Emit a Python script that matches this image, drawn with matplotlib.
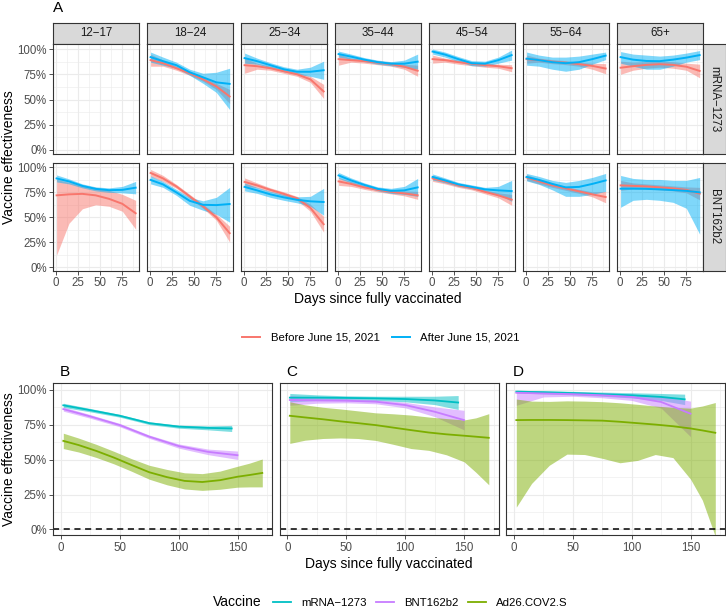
import matplotlib.pyplot as plt
from matplotlib.lines import Line2D

plt.rcParams['font.family'] = ['Liberation Sans', 'DejaVu Sans']

W, H = 726, 608

# ---- panel A data: smoothed VE by age group, (estimate, lower, upper)
age_groups = ['12−17', '18−24', '25−34', '35−44', '45−54', '55−64', '65+']
vaccines_a = ['mRNA−1273', 'BNT162b2']
periods = ['Before June 15, 2021', 'After June 15, 2021']
days_a = [1, 15, 30, 45, 60, 75, 90]

mrna_before = {
    '18−24': ([0.89, 0.86, 0.81, 0.76, 0.70, 0.63, 0.53], [0.83, 0.83, 0.79, 0.74, 0.68, 0.60, 0.46], [0.95, 0.89, 0.83, 0.78, 0.72, 0.66, 0.60]),
    '25−34': ([0.84, 0.83, 0.81, 0.78, 0.75, 0.70, 0.58], [0.76, 0.80, 0.79, 0.76, 0.73, 0.67, 0.51], [0.91, 0.86, 0.83, 0.80, 0.77, 0.73, 0.65]),
    '35−44': ([0.90, 0.89, 0.88, 0.865, 0.85, 0.825, 0.785], [0.84, 0.87, 0.86, 0.845, 0.83, 0.80, 0.73], [0.95, 0.91, 0.90, 0.885, 0.87, 0.85, 0.84]),
    '45−54': ([0.90, 0.89, 0.87, 0.855, 0.84, 0.83, 0.81], [0.86, 0.87, 0.85, 0.835, 0.82, 0.81, 0.775], [0.94, 0.91, 0.89, 0.875, 0.86, 0.85, 0.845]),
    '55−64': ([0.90, 0.89, 0.875, 0.865, 0.85, 0.833, 0.807], [0.86, 0.87, 0.855, 0.845, 0.83, 0.80, 0.755], [0.94, 0.91, 0.895, 0.885, 0.87, 0.86, 0.855]),
    '65+': ([0.815, 0.83, 0.843, 0.85, 0.843, 0.825, 0.783], [0.75, 0.79, 0.81, 0.82, 0.81, 0.79, 0.715], [0.88, 0.87, 0.875, 0.88, 0.875, 0.86, 0.85]),
}
mrna_after = {
    '18−24': ([0.92, 0.88, 0.84, 0.77, 0.72, 0.67, 0.655], [0.87, 0.84, 0.81, 0.74, 0.66, 0.57, 0.40], [0.97, 0.92, 0.87, 0.80, 0.76, 0.77, 0.81]),
    '25−34': ([0.91, 0.88, 0.84, 0.80, 0.775, 0.775, 0.79], [0.86, 0.85, 0.815, 0.775, 0.75, 0.73, 0.70], [0.96, 0.91, 0.865, 0.825, 0.80, 0.82, 0.88]),
    '35−44': ([0.95, 0.925, 0.895, 0.87, 0.855, 0.855, 0.875], [0.92, 0.90, 0.875, 0.85, 0.835, 0.82, 0.80], [0.98, 0.95, 0.915, 0.89, 0.875, 0.89, 0.95]),
    '45−54': ([0.975, 0.945, 0.90, 0.86, 0.855, 0.89, 0.94], [0.95, 0.92, 0.875, 0.835, 0.83, 0.86, 0.89], [1.0, 0.97, 0.925, 0.885, 0.88, 0.92, 0.99]),
    '55−64': ([0.905, 0.89, 0.87, 0.86, 0.87, 0.90, 0.935], [0.84, 0.83, 0.80, 0.78, 0.80, 0.85, 0.895], [0.97, 0.94, 0.92, 0.92, 0.93, 0.95, 0.97]),
    '65+': ([0.92, 0.895, 0.882, 0.88, 0.895, 0.915, 0.94], [0.86, 0.83, 0.80, 0.80, 0.83, 0.87, 0.895], [0.975, 0.95, 0.94, 0.93, 0.94, 0.96, 0.985]),
}
bnt_before = {
    '12−17': ([0.72, 0.73, 0.735, 0.72, 0.685, 0.635, 0.54], [0.12, 0.44, 0.585, 0.625, 0.61, 0.56, 0.38], [0.88, 0.85, 0.82, 0.80, 0.77, 0.73, 0.67]),
    '18−24': ([0.945, 0.89, 0.81, 0.71, 0.61, 0.50, 0.34], [0.91, 0.86, 0.79, 0.69, 0.59, 0.47, 0.25], [0.98, 0.92, 0.83, 0.73, 0.63, 0.53, 0.41]),
    '25−34': ([0.855, 0.82, 0.775, 0.735, 0.69, 0.595, 0.43], [0.815, 0.795, 0.755, 0.715, 0.67, 0.56, 0.35], [0.895, 0.845, 0.795, 0.755, 0.71, 0.63, 0.51]),
    '35−44': ([0.86, 0.835, 0.80, 0.775, 0.755, 0.74, 0.72], [0.82, 0.81, 0.78, 0.755, 0.735, 0.715, 0.68], [0.90, 0.86, 0.82, 0.795, 0.775, 0.765, 0.76]),
    '45−54': ([0.89, 0.86, 0.82, 0.795, 0.755, 0.72, 0.677], [0.86, 0.835, 0.80, 0.775, 0.735, 0.695, 0.62], [0.92, 0.885, 0.84, 0.815, 0.775, 0.745, 0.73]),
    '55−64': ([0.90, 0.86, 0.82, 0.79, 0.76, 0.73, 0.703], [0.87, 0.835, 0.80, 0.77, 0.74, 0.705, 0.645], [0.93, 0.885, 0.84, 0.81, 0.78, 0.755, 0.76]),
    '65+': ([0.82, 0.815, 0.81, 0.80, 0.79, 0.775, 0.737], [0.77, 0.785, 0.785, 0.775, 0.765, 0.745, 0.675], [0.87, 0.845, 0.835, 0.825, 0.815, 0.805, 0.80]),
}
bnt_after = {
    '12−17': ([0.89, 0.86, 0.815, 0.785, 0.772, 0.775, 0.797], [0.855, 0.835, 0.795, 0.765, 0.75, 0.745, 0.735], [0.925, 0.885, 0.835, 0.805, 0.795, 0.81, 0.86]),
    '18−24': ([0.875, 0.83, 0.75, 0.665, 0.625, 0.622, 0.633], [0.835, 0.80, 0.72, 0.62, 0.57, 0.53, 0.45], [0.915, 0.86, 0.78, 0.70, 0.665, 0.70, 0.80]),
    '25−34': ([0.805, 0.77, 0.73, 0.70, 0.675, 0.66, 0.653], [0.765, 0.74, 0.70, 0.67, 0.645, 0.61, 0.52], [0.845, 0.80, 0.76, 0.73, 0.705, 0.71, 0.79]),
    '35−44': ([0.92, 0.87, 0.825, 0.785, 0.765, 0.77, 0.80], [0.89, 0.845, 0.805, 0.765, 0.74, 0.73, 0.71], [0.95, 0.895, 0.845, 0.805, 0.79, 0.81, 0.89]),
    '45−54': ([0.905, 0.87, 0.83, 0.805, 0.78, 0.77, 0.763], [0.875, 0.845, 0.81, 0.785, 0.76, 0.73, 0.66], [0.935, 0.895, 0.85, 0.825, 0.80, 0.81, 0.87]),
    '55−64': ([0.905, 0.875, 0.835, 0.80, 0.805, 0.835, 0.87], [0.865, 0.83, 0.775, 0.71, 0.71, 0.73, 0.76], [0.94, 0.91, 0.87, 0.85, 0.87, 0.90, 0.94]),
    '65+': ([0.787, 0.787, 0.785, 0.78, 0.773, 0.765, 0.75], [0.60, 0.67, 0.68, 0.67, 0.65, 0.59, 0.33], [0.92, 0.89, 0.88, 0.88, 0.87, 0.87, 0.90]),
}

# ---- panels B-D data: smoothed VE by vaccine, (estimate, lower, upper)
vaccines_bd = ['mRNA−1273', 'BNT162b2', 'Ad26.COV2.S']
days_mrna = [2, 25, 50, 75, 100, 125, 145]
days_bnt = [2, 25, 50, 75, 100, 125, 150]
days_ad26 = [2, 15, 30, 45, 60, 75, 90, 105, 120, 135, 150, 160, 171]

mrna_bd = {
    'B': ([0.89, 0.855, 0.815, 0.762, 0.737, 0.728, 0.724], [0.875, 0.843, 0.805, 0.752, 0.726, 0.714, 0.702], [0.905, 0.867, 0.825, 0.772, 0.748, 0.742, 0.746]),
    'C': ([0.945, 0.945, 0.943, 0.94, 0.935, 0.925, 0.91], [0.915, 0.925, 0.928, 0.925, 0.915, 0.895, 0.86], [0.975, 0.965, 0.958, 0.955, 0.955, 0.955, 0.96]),
    'D': ([0.988, 0.984, 0.978, 0.97, 0.962, 0.95, 0.933], [0.978, 0.972, 0.964, 0.955, 0.943, 0.925, 0.895], [0.998, 0.994, 0.99, 0.985, 0.98, 0.975, 0.97]),
}
bnt_bd = {
    'B': ([0.863, 0.81, 0.748, 0.665, 0.598, 0.556, 0.532], [0.848, 0.797, 0.736, 0.653, 0.583, 0.536, 0.502], [0.878, 0.823, 0.76, 0.677, 0.613, 0.576, 0.562]),
    'C': ([0.928, 0.925, 0.923, 0.916, 0.892, 0.844, 0.784], [0.89, 0.905, 0.908, 0.901, 0.872, 0.809, 0.714], [0.96, 0.945, 0.938, 0.931, 0.912, 0.879, 0.854]),
    'D': ([0.98, 0.975, 0.97, 0.962, 0.95, 0.914, 0.83], [0.89, 0.95, 0.955, 0.944, 0.925, 0.87, 0.665], [0.995, 0.99, 0.985, 0.98, 0.97, 0.955, 0.92]),
}
ad26_bd = {
    'B': ([0.635, 0.605, 0.563, 0.515, 0.462, 0.41, 0.375, 0.348, 0.34, 0.353, 0.378, 0.39, 0.405],
          [0.58, 0.555, 0.516, 0.47, 0.417, 0.36, 0.32, 0.29, 0.28, 0.288, 0.303, 0.305, 0.305],
          [0.69, 0.655, 0.61, 0.56, 0.507, 0.46, 0.43, 0.406, 0.40, 0.418, 0.453, 0.475, 0.505]),
    'C': ([0.815, 0.803, 0.79, 0.775, 0.762, 0.748, 0.73, 0.712, 0.695, 0.682, 0.672, 0.665, 0.657],
          [0.617, 0.64, 0.652, 0.656, 0.652, 0.638, 0.61, 0.58, 0.567, 0.535, 0.485, 0.41, 0.32],
          [0.915, 0.893, 0.876, 0.864, 0.85, 0.836, 0.829, 0.82, 0.806, 0.795, 0.785, 0.80, 0.83]),
    'D': ([0.784, 0.785, 0.785, 0.784, 0.782, 0.78, 0.772, 0.762, 0.752, 0.74, 0.724, 0.71, 0.693],
          [0.16, 0.33, 0.46, 0.54, 0.537, 0.51, 0.478, 0.495, 0.537, 0.515, 0.36, 0.21, -0.05],
          [0.935, 0.92, 0.918, 0.922, 0.92, 0.916, 0.908, 0.897, 0.885, 0.875, 0.87, 0.885, 0.91]),
}

pct_ticks = [0, 0.25, 0.5, 0.75, 1.0]
pct_minor = [0.125, 0.375, 0.625, 0.875]
pct_labels = ['0%', '25%', '50%', '75%', '100%']

red = '#F8766D'
blue = '#00B0F6'
vac_colors = ['#00BFC4', '#C77CFF', '#7CAE00']

fig = plt.figure(figsize=(W / 100, H / 100), dpi=100)


def px_axes(left, top, right, bottom):
    return fig.add_axes([left / W, 1 - bottom / H, (right - left) / W, (bottom - top) / H])


def style_panel(ax, xmajor, xminor, xlim, ylim, show_x, show_y):
    ax.set_xlim(xlim)
    ax.set_ylim(ylim)
    ax.set_xticks(xmajor)
    ax.set_xticks(xminor, minor=True)
    ax.set_yticks(pct_ticks)
    ax.set_yticks(pct_minor, minor=True)
    ax.grid(which='major', color='#EBEBEB', lw=0.8)
    ax.grid(which='minor', color='#EBEBEB', lw=0.4)
    ax.set_axisbelow(True)
    for s in ax.spines.values():
        s.set_color('#333333')
        s.set_linewidth(0.8)
    ax.tick_params(which='major', length=2.75, width=0.6, color='#333333',
                   labelsize=8.3, labelcolor='#4D4D4D', pad=2)
    ax.tick_params(which='minor', length=0)
    if show_y:
        ax.set_yticklabels(pct_labels)
    else:
        ax.tick_params(axis='y', length=0, labelleft=False)
    if show_x:
        ax.set_xticklabels([str(v) for v in xmajor])
    else:
        ax.tick_params(axis='x', length=0, labelbottom=False)


def strip(left, top, right, bottom, label, rot=0):
    sa = px_axes(left, top, right, bottom)
    sa.set_facecolor('#D9D9D9')
    sa.set_xticks([])
    sa.set_yticks([])
    for s in sa.spines.values():
        s.set_color('#333333')
        s.set_linewidth(0.8)
    sa.text(0.5, 0.5, label, transform=sa.transAxes, ha='center', va='center',
            fontsize=8.3, color='#1A1A1A', rotation=rot)


# ---- panel A
col_left = [53.3 + 94 * j for j in range(7)]
rows = [(44, 153.5), (162.5, 270.5)]
row_data = [(mrna_before, mrna_after), (bnt_before, bnt_after)]

for j, age in enumerate(age_groups):
    strip(col_left[j], 23, col_left[j] + 86, 44, age)
    for i, (top, bottom) in enumerate(rows):
        ax = px_axes(col_left[j], top, col_left[j] + 86, bottom)
        style_panel(ax, [0, 25, 50, 75], [12.5, 37.5, 62.5, 87.5], (-2.7, 94.1), (-0.035, 1.05),
                    show_x=(i == 1), show_y=(j == 0))
        for data, color in zip(row_data[i], [red, blue]):
            if age in data:
                est, lo, hi = data[age]
                ax.fill_between(days_a, lo, hi, color=color, alpha=0.5, lw=0)
                ax.plot(days_a, est, color=color, lw=1.4)

for i, (top, bottom) in enumerate(rows):
    strip(703.3, top, 725.5, bottom, vaccines_a[i], rot=-90)

fig.text(53.3 / W, 1 - 12.3 / H, 'A', fontsize=11, va='baseline', ha='left')
fig.text(9.5 / W, 1 - 157 / H, 'Vaccine effectiveness', rotation=90, ha='center', va='center', fontsize=10)
fig.text(378 / W, 1 - 302.7 / H, 'Days since fully vaccinated', ha='center', va='baseline', fontsize=10)

fig.legend(handles=[Line2D([], [], color=red, lw=1.4), Line2D([], [], color=blue, lw=1.4)],
           labels=periods, loc='center', bbox_to_anchor=(381 / W, 1 - 337.5 / H), ncol=2,
           frameon=False, fontsize=8.2, handlelength=1.6, handletextpad=0.9,
           columnspacing=1.1, borderpad=0, borderaxespad=0)

# ---- panels B-D
bd_left = [53.3, 279.8, 506.3]
for k, letter in enumerate(['B', 'C', 'D']):
    ax = px_axes(bd_left[k], 383, bd_left[k] + 219, 535)
    style_panel(ax, [0, 50, 100, 150], [25, 75, 125, 175], (-6.5, 179.5), (-0.04, 1.05),
                show_x=True, show_y=(k == 0))
    for days, data, color in zip([days_mrna, days_bnt, days_ad26], [mrna_bd, bnt_bd, ad26_bd], vac_colors):
        est, lo, hi = data[letter]
        ax.fill_between(days, lo, hi, color=color, alpha=0.5, lw=0)
        ax.plot(days, est, color=color, lw=1.3)
    ax.axhline(0, color='black', lw=1.1, ls=(0, (4, 3)))
    fig.text((bd_left[k] + 6) / W, 1 - 376.5 / H, letter, fontsize=11, va='baseline', ha='left')

fig.text(9.5 / W, 1 - 459 / H, 'Vaccine effectiveness', rotation=90, ha='center', va='center', fontsize=10)
fig.text(389 / W, 1 - 567.7 / H, 'Days since fully vaccinated', ha='center', va='baseline', fontsize=10)

fig.text(213 / W, 1 - 602.5 / H, 'Vaccine', fontsize=10, va='center', ha='left')
fig.legend(handles=[Line2D([], [], color=c, lw=1.3) for c in vac_colors], labels=vaccines_bd,
           loc='center left', bbox_to_anchor=(273 / W, 1 - 603 / H), ncol=3, frameon=False,
           fontsize=8.2, handlelength=1.55, handletextpad=0.9, columnspacing=0.85,
           borderpad=0, borderaxespad=0)

fig.savefig('out.png', dpi=100)
